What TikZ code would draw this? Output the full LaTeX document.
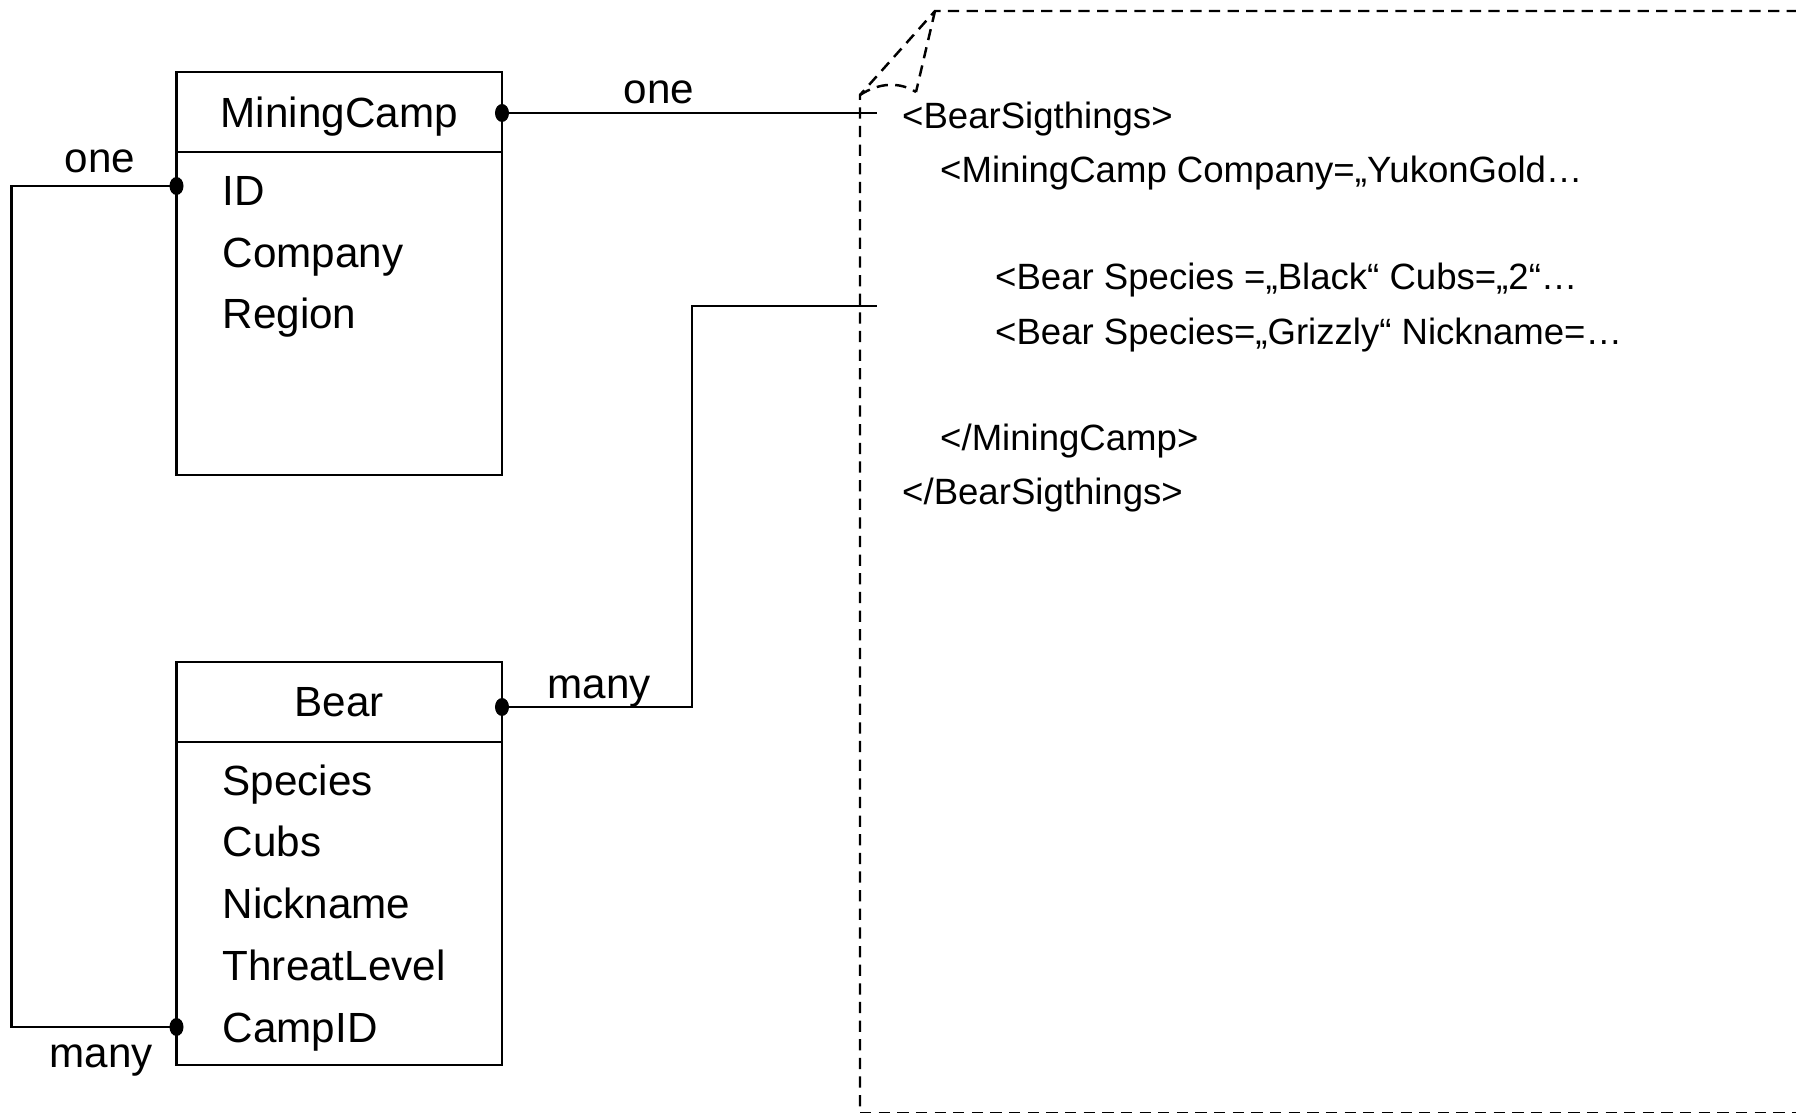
\documentclass[tikz,border=0pt]{standalone}
\usepackage{fontspec}
\setmainfont{Liberation Sans}
\usetikzlibrary{positioning, calc}

\begin{document}
\begin{tikzpicture}[
    x=0.01cm, y=-0.01cm,
    line width=0.7pt,
    entity_head/.style={
        draw=black, minimum width=3.255cm, minimum height=0.8cm,
        inner sep=0pt, outer sep=0pt, text depth=0pt,
        font=\fontsize{12}{14}\selectfont
    },
    entity_body/.style={
        draw=black, minimum width=3.255cm, minimum height=3.23cm,
        inner sep=0pt, outer sep=0pt
    },
    attr/.style={
        anchor=base west, inner sep=0pt,
        font=\fontsize{12}{14}\selectfont
    },
    card/.style={
        anchor=base, inner sep=0pt,
        font=\fontsize{12}{14}\selectfont
    },
    xml/.style={
        anchor=base west, inner sep=0pt,
        font=\fontsize{10.4}{12}\selectfont
    },
    doc_line/.style={
        draw=black, dash pattern=on 3.2pt off 2.1pt
    },
    joint/.style={
        fill=black
    }
]

\useasboundingbox (0,0) rectangle (1796,1113);

%% ── Entity MiningCamp ──────────────────────
\node[entity_head] (camp) at (339.25,111.85) {MiningCamp};
\node[entity_body, below=0pt of camp] (camp_body) {};

\node[attr] (camp_id)      at (221.5,206) {ID};
\node[attr] (camp_company) at (221.5,268) {Company};
\node[attr] (camp_region)  at (221.5,329) {Region};

%% ── Entity Bear ────────────────────────────
\node[entity_head] (bear) at (339.25,702) {Bear};
\node[entity_body, below=0pt of bear] (bear_body) {};

\foreach \name/\y in {Species/796, Cubs/857, Nickname/919,
                      ThreatLevel/981, CampID/1042.5}{
    \node[attr] (bear_\name) at (221.5,\y) {\name};
}

%% ── XML document (dashed sheet) ────────────
\coordinate (page_corner) at (860,95);
\coordinate (fold_top)    at (935,11);
\coordinate (fold_tip)    at (916,92);

\draw[doc_line] (860,1125) -- (page_corner) -- (fold_top) -- (1810,11);
\draw[doc_line] (fold_top) -- (fold_tip);
\draw[doc_line] (page_corner) .. controls (880,82) and (900,82) .. (fold_tip);
\draw[doc_line] (860,1113) -- (1810,1113);

\node[xml] (xml_root)      at (901,129)   {<BearSigthings>};
\node[xml] (xml_camp)      at (939,183)   {<MiningCamp Company=„YukonGold…};
\node[xml] (xml_black)     at (994,289.5) {<Bear Species =„Black“ Cubs=„2“…};
\node[xml] (xml_grizzly)   at (994,344.5) {<Bear Species=„Grizzly“ Nickname=…};
\node[xml] (xml_camp_end)  at (939,451)   {</MiningCamp>};
\node[xml] (xml_root_end)  at (901,505)   {</BearSigthings>};

%% ── Relations ──────────────────────────────
\coordinate (camp_link) at (502,113);
\coordinate (bear_link) at (502,707);
\coordinate (id_key)    at (176.5,186);
\coordinate (fk_key)    at (176.5,1027);
\coordinate (to_root)   at (877,113);
\coordinate (to_bears)  at (877,306);

% MiningCamp -> <BearSigthings>
\draw (camp_link) -- (to_root);
\node[card] at (659,104) {one};

% Bear -> <Bear ...> elements
\draw (bear_link) -- ++(190,0) |- (to_bears);
\node[card] at (599,698.5) {many};

% ID -> CampID
\draw (id_key) -- ++(-165,0) |- (fk_key);
\node[card] at (100,173) {one};
\node[card] at (101,1068) {many};

% end points
\foreach \p in {camp_link, bear_link, id_key, fk_key}{
    \fill[joint] (\p) ellipse [x radius=0.07cm, y radius=0.09cm];
}

\end{tikzpicture}
\end{document}
